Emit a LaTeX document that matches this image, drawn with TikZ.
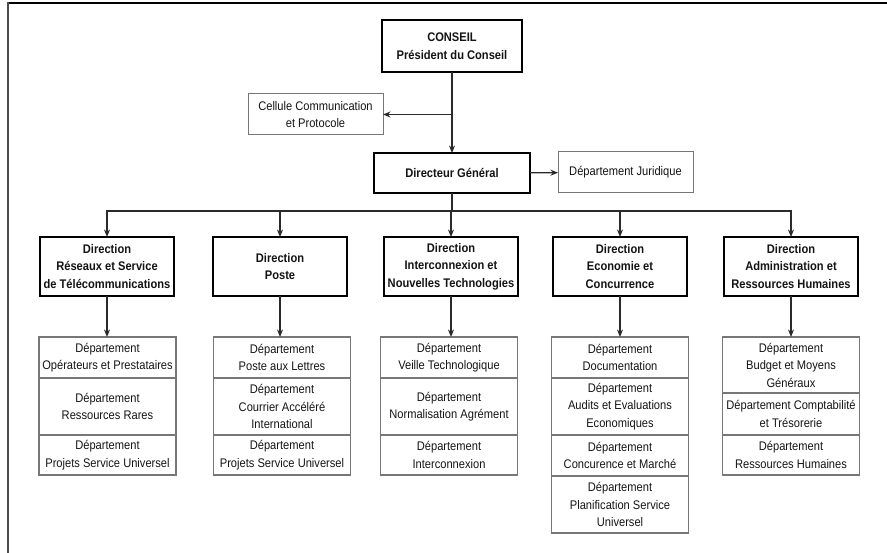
\documentclass[tikz,border=0pt]{standalone}
\usepackage{fontspec}
\setmainfont{Liberation Sans}[FakeStretch=0.89]
\usetikzlibrary{arrows.meta,positioning}
\definecolor{linegray}{HTML}{2A2A2A}
\definecolor{boxgray}{HTML}{777777}
\definecolor{txt}{HTML}{141414}
\tikzset{
  every node/.style={inner sep=0pt, outer sep=0pt, text=txt, align=center, font=\fontsize{12.5}{17.5}\selectfont},
  bossbox/.style={draw=black, line width=2.2pt, fill=white, font=\bfseries\fontsize{12.5}{18}\selectfont},
  dirbox/.style={draw=black, line width=2pt, fill=white, minimum width=134pt, minimum height=59pt, font=\bfseries\fontsize{12.5}{17.5}\selectfont},
  thinbox/.style={draw=boxgray, line width=1pt, fill=white, minimum width=135pt, minimum height=41pt},
  deptbox/.style={draw=boxgray, line width=1.1pt, minimum width=137pt, anchor=north},
  conn/.style={draw=linegray, line width=1.3pt, -{Stealth[length=7.5pt,width=6pt]}},
  plain/.style={draw=linegray, line width=1.3pt},
}
\begin{document}
\begin{tikzpicture}[x=1pt,y=-1pt]
\useasboundingbox (0,0) rectangle (887,553);
% frame
\draw[draw=black, line width=1.6pt] (7,3) -- (887,3);
\draw[draw=black!70, line width=2pt] (7.5,2.2) -- (7.5,553);

% top
\node[bossbox, minimum width=140pt, minimum height=52pt] (conseil) at (452,46) {CONSEIL\\Président du Conseil};
\node[thinbox] (cellule) at (315.5,114.5) {Cellule Communication\\et Protocole};
\node[bossbox, minimum width=156pt, minimum height=40pt] (dg) at (452,173) {Directeur Général};
\node[thinbox] (jur) at (625.5,172.5) {Département Juridique};

\draw[conn] (conseil) -- (dg);
\draw[conn] (cellule.east -| conseil.south) -- (cellule.east);
\draw[conn] (dg) -- (jur);

% directions
\node[dirbox] (d1) at (107,266.5) {Direction\\Réseaux et Service\\de Télécommunications};
\node[dirbox] (d2) at (280,266.5) {Direction\\Poste};
\node[dirbox] (d3) at (451,266.5) {Direction\\Interconnexion et\\Nouvelles Technologies};
\node[dirbox] (d4) at (620,266.5) {Direction\\Economie et\\Concurrence};
\node[dirbox] (d5) at (791,266.5) {Direction\\Administration et\\Ressources Humaines};

\coordinate (bus) at (452,211);
\draw[plain] (dg.south) -- (bus);
\foreach \d in {d1,d2,d3,d4,d5} {
  \draw[conn] (bus) -| (\d.north);
}

% departments column 1
\node[deptbox, minimum height=41pt] (a1) at (107.5,337) {Département\\Opérateurs et Prestataires};
\node[deptbox, minimum height=57pt] (a2) at (a1.south) {Département\\Ressources Rares};
\node[deptbox, minimum height=40pt] (a3) at (a2.south) {Département\\Projets Service Universel};
% column 2
\node[deptbox, minimum height=41pt] (b1) at (282,337) {Département\\Poste aux Lettres};
\node[deptbox, minimum height=57pt] (b2) at (b1.south) {Département\\Courrier Accéléré\\International};
\node[deptbox, minimum height=40pt] (b3) at (b2.south) {Département\\Projets Service Universel};
% column 3
\node[deptbox, minimum height=41pt] (c1) at (449,337) {Département\\Veille Technologique};
\node[deptbox, minimum height=57pt] (c2) at (c1.south) {Département\\Normalisation Agrément};
\node[deptbox, minimum height=40pt] (c3) at (c2.south) {Département\\Interconnexion};
% column 4
\node[deptbox, minimum height=41pt] (e1) at (620,337) {Département\\Documentation};
\node[deptbox, minimum height=57pt] (e2) at (e1.south) {Département\\Audits et Evaluations\\Economiques};
\node[deptbox, minimum height=41pt] (e3) at (e2.south) {Département\\Concurence et Marché};
\node[deptbox, minimum height=57pt] (e4) at (e3.south) {Département\\Planification Service\\Universel};
% column 5
\node[deptbox, minimum height=56pt] (f1) at (791,337) {Département\\Budget et Moyens\\Généraux};
\node[deptbox, minimum height=42pt] (f2) at (f1.south) {Département Comptabilité\\et Trésorerie};
\node[deptbox, minimum height=40pt] (f3) at (f2.south) {Département\\Ressources Humaines};

\draw[conn] (d1.south) -- (d1.south |- a1.north);
\draw[conn] (d2.south) -- (d2.south |- b1.north);
\draw[conn] (d3.south) -- (d3.south |- c1.north);
\draw[conn] (d4.south) -- (d4.south |- e1.north);
\draw[conn] (d5.south) -- (d5.south |- f1.north);
\end{tikzpicture}
\end{document}
